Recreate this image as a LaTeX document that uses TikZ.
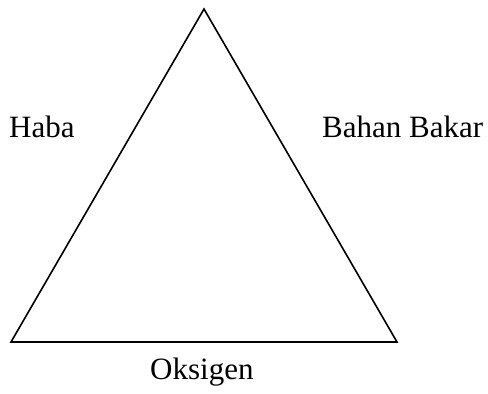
\documentclass[tikz,border=0pt]{standalone}
\usepackage{fontspec}
\setmainfont{Liberation Serif}
\begin{document}
\begin{tikzpicture}[x=1pt,y=-1pt,
  lbl/.style={anchor=base west,inner sep=0pt,font=\fontsize{31}{36}\selectfont},
  edge/.style={line width=1.6pt,line join=miter}]
\useasboundingbox (0,0) rectangle (488,394);
\coordinate (top) at (204,9);
\coordinate (bl) at (11,342);
\coordinate (br) at (397,342);
\draw[edge] (top) -- (br) -- (bl) -- cycle;
\node[lbl] (haba) at (9,137) {Haba};
\node[lbl] (bahan) at (322,137) {Bahan Bakar};
\node[lbl] (oksigen) at (150,379) {Oksigen};
\end{tikzpicture}
\end{document}
